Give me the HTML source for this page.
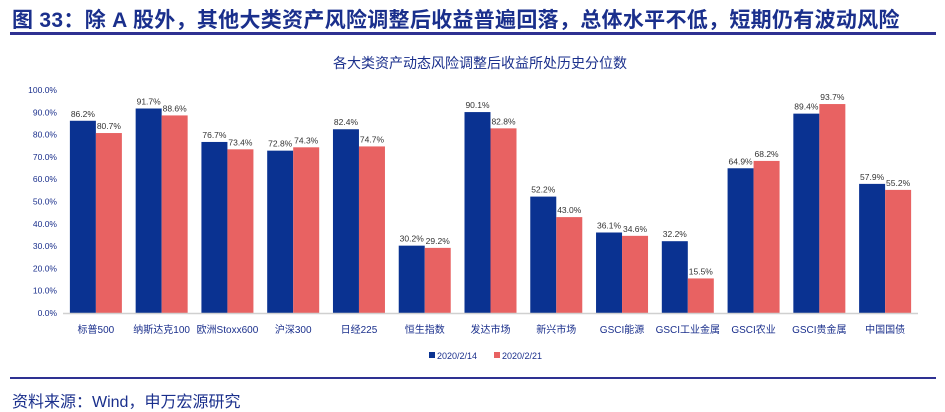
<!DOCTYPE html>
<html><head><meta charset="utf-8"><style>
body{margin:0;width:945px;height:410px;background:#fff;overflow:hidden;font-family:"Liberation Sans","Noto Sans CJK SC",sans-serif}
.t{position:absolute;left:12px;top:4px;font-size:21px;font-weight:bold;color:#1a2f8c;letter-spacing:0.3px}
</style></head><body>
<div class="t">图 33：除 A 股外，其他大类资产风险调整后收益普遍回落，总体水平不低，短期仍有波动风险</div>
<div style="position:absolute;left:10px;top:32px;width:926px;height:3px;background:#2e3192"></div>
<svg id="c" width="945" height="410" style="position:absolute;left:0;top:0"></svg>
<div style="position:absolute;left:10px;top:377px;width:926px;height:2px;background:#2e3192"></div>
<div style="position:absolute;left:12px;top:388px;font-size:16px;color:#1a2f8c">资料来源：Wind，申万宏源研究</div>
<script>
const categories=["标普500","纳斯达克100","欧洲Stoxx600","沪深300","日经225","恒生指数","发达市场","新兴市场","GSCI能源","GSCI工业金属","GSCI农业","GSCI贵金属","中国国债"];
const series1=[86.2,91.7,76.7,72.8,82.4,30.2,90.1,52.2,36.1,32.2,64.9,89.4,57.9];
const series2=[80.7,88.6,73.4,74.3,74.7,29.2,82.8,43.0,34.6,15.5,68.2,93.7,55.2];
const ticks=[0,10,20,30,40,50,60,70,80,90,100];
const svg=document.getElementById('c');const NS='http://www.w3.org/2000/svg';
const x0=63,x1=918,y0=313,y100=90;
const y=v=>y0-(y0-y100)*v/100;
const gw=(x1-x0)/categories.length;
function mk(t,a,txt){const e=document.createElementNS(NS,t);for(const k in a)e.setAttribute(k,a[k]);if(txt!=null)e.textContent=txt;svg.appendChild(e);return e;}
let e=mk('text',{x:480,y:68,'font-size':14,fill:'#1a2f8c','text-anchor':'middle'},'各大类资产动态风险调整后收益所处历史分位数');


ticks.forEach(t=>{const l=mk('text',{x:57,y:y(t)+3,'font-size':8.5,fill:'#1a2f8c','text-anchor':'end'},t.toFixed(1)+'%');

});
categories.forEach((c,i)=>{const cx=x0+gw*(i+0.5);
const b1=mk('rect',{x:cx-26,y:y(series1[i]),width:26,height:y0-y(series1[i]),fill:'#0a3291'});


const b2=mk('rect',{x:cx,y:y(series2[i]),width:26,height:y0-y(series2[i]),fill:'#e86262'});


const v1=mk('text',{x:cx-13,y:y(series1[i])-4,'font-size':8.5,fill:'#333','text-anchor':'middle'},series1[i].toFixed(1)+'%');


const v2=mk('text',{x:cx+13,y:y(series2[i])-4,'font-size':8.5,fill:'#333','text-anchor':'middle'},series2[i].toFixed(1)+'%');


const l=mk('text',{x:cx,y:333,'font-size':10,fill:'#1a2f8c','text-anchor':'middle'},c);

});
const ax=mk('line',{x1:x0,x2:x1,y1:y0+0.5,y2:y0+0.5,stroke:'#d0d0d0','stroke-width':1.5});


const g1=mk('rect',{x:429,y:352,width:6,height:6,fill:'#0a3291'});


const g1t=mk('text',{x:437,y:359,'font-size':9,fill:'#1a2f8c'},'2020/2/14');


const g2=mk('rect',{x:494,y:352,width:6,height:6,fill:'#e86262'});


const g2t=mk('text',{x:502,y:359,'font-size':9,fill:'#1a2f8c'},'2020/2/21');


</script>
</body></html>
